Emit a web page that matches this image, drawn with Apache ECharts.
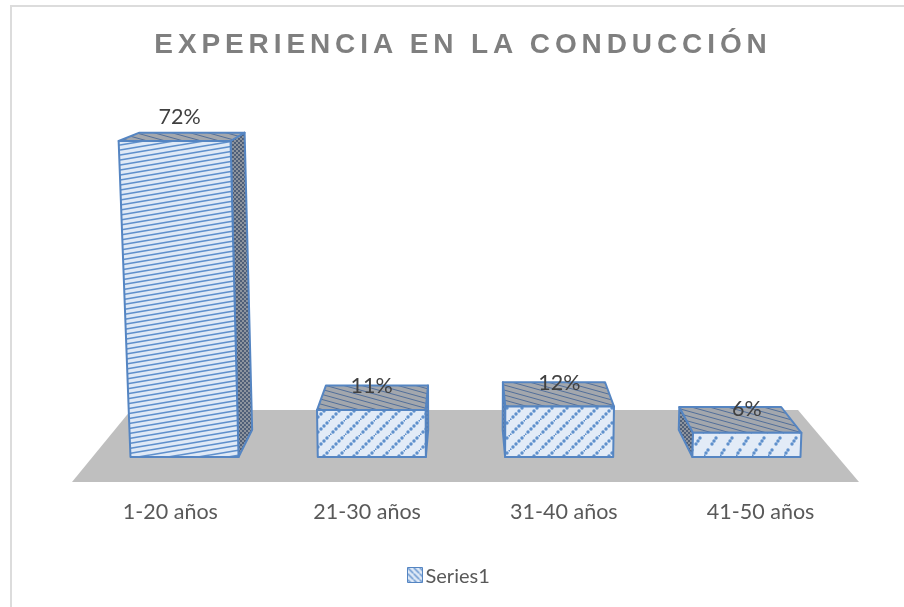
<!DOCTYPE html>
<html><head><meta charset="utf-8">
<style>
html,body{margin:0;padding:0;background:#fff}
#c{width:904px;height:607px;filter:blur(0.35px)}
#c svg text[style*="bold"], #c svg text[font-weight="bold"]{letter-spacing:4.9px}
</style>
<script src="https://cdn.jsdelivr.net/npm/echarts@6/dist/echarts.min.js"></script>
</head><body><div id="c"></div>
<script>
const titleText = 'EXPERIENCIA EN LA CONDUCCIÓN';
const categories = ['1-20 años','21-30 años','31-40 años','41-50 años'];
const values = [72, 10.7, 11.5, 5.5];
const seriesName = 'Series1';

// 3D look of the original: everything recedes towards one vanishing point.
const VX = 465, VY = 2, DEPTH = 0.94, FLOOR_S = 0.952, BAR_RATIO = 0.577, LEAN = 0.000112;
const EDGE = '#5585c2';

function tile(w, h, draw) {
  const c = document.createElement('canvas'); c.width = w; c.height = h;
  draw(c.getContext('2d'), w, h);
  return { image: c, repeat: 'repeat' };
}
const fineLines = tile(30, 5, (g, w, h) => {
  g.fillStyle = '#dfe9f6'; g.fillRect(0, 0, w, h);
  g.strokeStyle = '#5f90cc'; g.lineWidth = 1.6;
  for (let o = -h; o <= h; o += h) { g.beginPath(); g.moveTo(0, h + o); g.lineTo(w, o); g.stroke(); }
});
const dottedDiag = tile(15, 15, (g, w, h) => {
  g.fillStyle = '#e2ebf7'; g.fillRect(0, 0, w, h);
  g.fillStyle = '#5f90cc';
  for (let i = 0; i <= 5; i++) {
    const x = i * 3, y = h - i * 3;
    g.beginPath(); g.arc(x, y, 1.7, 0, 6.3); g.fill();
  }
});
const wideDiag = tile(16, 24, (g, w, h) => {
  g.fillStyle = '#e2ebf7'; g.fillRect(0, 0, w, h);
  g.fillStyle = '#5f90cc';
  for (let i = 0; i <= 8; i++) {
    const x = i * 2, y = h - i * 3;
    if (i % 4 !== 3) { g.beginPath(); g.arc(x, y, 1.7, 0, 6.3); g.fill(); }
  }
});
const topHatch = tile(18, 5, (g, w, h) => {
  g.fillStyle = '#a3a7ad'; g.fillRect(0, 0, w, h);
  g.strokeStyle = '#526f9a'; g.lineWidth = 1;
  for (let o = -h; o <= h; o += h) { g.beginPath(); g.moveTo(0, o); g.lineTo(w, h + o); g.stroke(); }
});
const sideDots = tile(4, 4, (g, w, h) => {
  g.fillStyle = '#8d949e'; g.fillRect(0, 0, w, h);
  g.fillStyle = '#4f5f78'; g.fillRect(0, 0, 2, 2); g.fillRect(2, 2, 2, 2);
});
const legendIcon = tile(6, 6, (g, w, h) => {
  g.fillStyle = '#dfe9f6'; g.fillRect(0, 0, w, h);
  g.strokeStyle = '#5f90cc'; g.lineWidth = 1.4;
  g.beginPath(); g.moveTo(0, 0); g.lineTo(w, h); g.stroke();
});

const back = (p) => [VX + (p[0] - VX) * DEPTH, VY + (p[1] - VY) * DEPTH];

function renderBar(params, api) {
  const i = api.value(0);
  const base = api.coord([i, 0]);
  const head = api.coord([i, api.value(1)]);
  const cx = VX + (base[0] - VX) * FLOOR_S;
  const half = api.size([1, 0])[0] * FLOOR_S * BAR_RATIO / 2;
  const h = base[1] - head[1];
  const lean = 1 + h * LEAN;
  const bl = [cx - half, base[1]], br = [cx + half, base[1]];
  const tl = [VX + (bl[0] - VX) * lean, head[1]], tr = [VX + (br[0] - VX) * lean, head[1]];
  const line = { stroke: EDGE, lineWidth: 2, lineJoin: 'round' };
  const poly = (pts, fill) => ({ type: 'polygon', shape: { points: pts }, style: Object.assign({ fill }, line) });
  const kids = [];
  if (tr[0] < VX) kids.push(poly([br, tr, back(tr), back(br)], sideDots));
  if (tl[0] > VX) kids.push(poly([bl, tl, back(tl), back(bl)], sideDots));
  kids.push(poly([tl, tr, back(tr), back(tl)], topHatch));
  const frontFill = h > 200 ? fineLines : (h < 30 ? wideDiag : dottedDiag);
  kids.push(poly([bl, br, tr, tl], frontFill));
  kids.push({
    type: 'text', z2: 10,
    style: {
      text: Math.round(api.value(1)) + '%',
      x: (cx + (tl[0] + tr[0]) / 2) / 2, y: head[1] - 25,
      align: 'center', verticalAlign: 'middle',
      font: '21.5px Lato', fill: '#404040'
    }
  });
  return { type: 'group', children: kids };
}

const chart = echarts.init(document.getElementById('c'), null, { renderer: 'svg' });
chart.setOption({
  animation: false,
  backgroundColor: '#fff',
  title: {
    text: titleText, left: 458, top: 24, textAlign: 'center',
    textStyle: { fontFamily: 'Liberation Sans', fontSize: 28, fontWeight: 'bold', color: '#7f7f7f' }
  },
  grid: { left: 72, width: 787, top: 141, height: 316 },
  xAxis: {
    type: 'category', data: categories,
    axisLine: { show: false }, axisTick: { show: false },
    axisLabel: { margin: 43, fontFamily: 'Lato', fontSize: 21.5, color: '#595959' }
  },
  yAxis: { type: 'value', min: 0, max: 72, show: false, splitLine: { show: false } },
  legend: {
    show: true, data: [seriesName], left: 402, top: 560, itemWidth: 15, itemHeight: 15, itemGap: 4,
    icon: 'rect',
    itemStyle: { color: legendIcon, borderColor: EDGE, borderWidth: 1 },
    textStyle: { fontFamily: 'Lato', fontSize: 20, color: '#595959', padding: [0, 0, 0, -2] }
  },
  graphic: [
    { type: 'polygon', z: -1, silent: true, shape: { points: [[72, 482], [859, 482], [798, 410], [131, 410]] }, style: { fill: '#bfbfbf' } },
    { type: 'polyline', z: -1, silent: true, shape: { points: [[11, 607], [11, 6], [904, 6]] }, style: { fill: null, stroke: '#dcdcdc', lineWidth: 2 } }
  ],
  series: [{
    type: 'custom', name: seriesName, renderItem: renderBar,
    encode: { x: 0, y: 1 },
    itemStyle: { color: legendIcon },
    data: values.map((v, i) => [i, v])
  }]
});
</script></body></html>
